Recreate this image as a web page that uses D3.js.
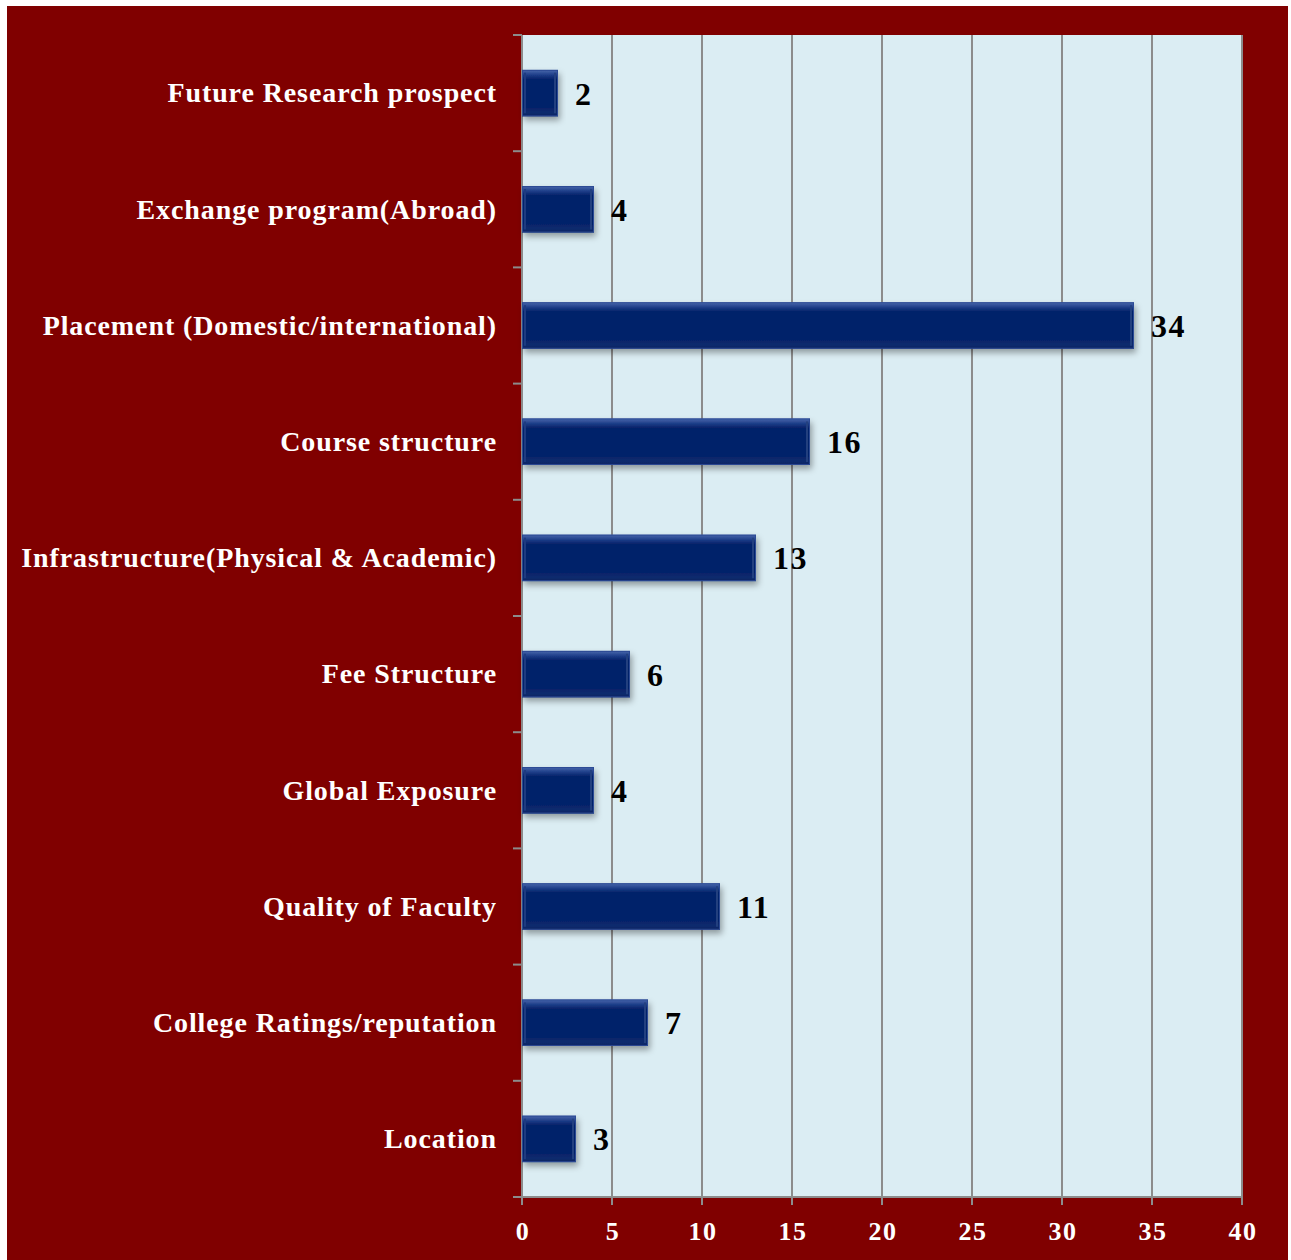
<!DOCTYPE html>
<html>
<head>
<meta charset="utf-8">
<script src="https://cdn.jsdelivr.net/npm/d3@7"></script>
<style>
  html, body { margin: 0; padding: 0; background: #ffffff; }
  svg { display: block; }
</style>
</head>
<body>
<svg id="chart" width="1291" height="1260"></svg>
<script>
// Factors considered when choosing a college (number of responses)
const categories = [
  "Future Research prospect",
  "Exchange program(Abroad)",
  "Placement (Domestic/international)",
  "Course structure",
  "Infrastructure(Physical & Academic)",
  "Fee Structure",
  "Global Exposure",
  "Quality of Faculty",
  "College Ratings/reputation",
  "Location"
];
const values = [2, 4, 34, 16, 13, 6, 4, 11, 7, 3];
const xTicks = [0, 5, 10, 15, 20, 25, 30, 35, 40];

const svg = d3.select("#chart");
const W = 1291, H = 1260;
const plot = { left: 522, right: 1242, top: 35, bottom: 1197 };
const fontFamily = "'Liberation Serif', 'DejaVu Serif', serif";

// Outer dark-red panel
svg.append("rect").attr("x", 7).attr("y", 6).attr("width", W - 10).attr("height", H - 6)
  .attr("fill", "#800000");

const x = d3.scaleLinear().domain([0, 40]).range([plot.left, plot.right]);
const y = d3.scaleBand().domain(categories).range([plot.top, plot.bottom]).paddingInner(0.6).paddingOuter(0.3);
const yBand = d3.scaleBand().domain(categories).range([plot.top, plot.bottom]);

// Plot background
svg.append("rect").attr("x", plot.left).attr("y", plot.top)
  .attr("width", plot.right - plot.left).attr("height", plot.bottom - plot.top)
  .attr("fill", "#dbedf3");

const defs = svg.append("defs");
const grad = defs.append("linearGradient").attr("id", "barGrad")
  .attr("x1", 0).attr("y1", 0).attr("x2", 0).attr("y2", 1);
grad.append("stop").attr("offset", "0%").attr("stop-color", "#4a68ad");
grad.append("stop").attr("offset", "12%").attr("stop-color", "#1a3a85");
grad.append("stop").attr("offset", "20%").attr("stop-color", "#06236a");
grad.append("stop").attr("offset", "82%").attr("stop-color", "#06236a");
grad.append("stop").attr("offset", "92%").attr("stop-color", "#0f2c6e");
grad.append("stop").attr("offset", "100%").attr("stop-color", "#0a2260");

const shadow = defs.append("filter").attr("id", "barShadow")
  .attr("x", "-10%").attr("y", "-20%").attr("width", "130%").attr("height", "160%");
shadow.append("feDropShadow").attr("dx", 2).attr("dy", 4).attr("stdDeviation", 3)
  .attr("flood-color", "#000").attr("flood-opacity", 0.35);

// Vertical gridlines
svg.append("g").selectAll("line").data(xTicks).join("line")
  .attr("x1", d => x(d)).attr("x2", d => x(d))
  .attr("y1", plot.top).attr("y2", plot.bottom + 8)
  .attr("stroke", "#8c8c8c").attr("stroke-width", 2);

// Category tick marks on left axis
const yTickPos = categories.map(c => yBand(c)).concat([plot.bottom]);
svg.append("g").selectAll("line").data(yTickPos).join("line")
  .attr("x1", plot.left - 9).attr("x2", plot.left)
  .attr("y1", d => d).attr("y2", d => d)
  .attr("stroke", "#8c8c8c").attr("stroke-width", 2);

// Bottom axis line
svg.append("line").attr("x1", plot.left - 9).attr("x2", plot.right)
  .attr("y1", plot.bottom).attr("y2", plot.bottom)
  .attr("stroke", "#8c8c8c").attr("stroke-width", 2);

// Bars
const bars = svg.append("g");
categories.forEach((c, i) => {
  const x0 = x(0), x1 = x(values[i]);
  const by = y(c), bh = y.bandwidth();
  const g = bars.append("g");
  g.append("rect").attr("x", x0).attr("y", by).attr("width", x1 - x0).attr("height", bh)
    .attr("fill", "url(#barGrad)").attr("filter", "url(#barShadow)");
  // bevel edges
  g.append("rect").attr("x", x0 + 0.5).attr("y", by + 0.5).attr("width", x1 - x0 - 1).attr("height", bh - 1)
    .attr("fill", "none").attr("stroke", "#2c4a94").attr("stroke-width", 1);
  g.append("line").attr("x1", x1 - 3).attr("x2", x1 - 3).attr("y1", by + 3).attr("y2", by + bh - 3)
    .attr("stroke", "#23407f").attr("stroke-width", 2);
  g.append("line").attr("x1", x0 + 3).attr("x2", x0 + 3).attr("y1", by + 3).attr("y2", by + bh - 3)
    .attr("stroke", "#1e3b80").attr("stroke-width", 2);
});

// Value labels
svg.append("g").selectAll("text").data(categories).join("text")
  .attr("x", (c, i) => x(values[i]) + 17)
  .attr("y", c => y(c) + y.bandwidth() / 2)
  .attr("dy", "0.36em")
  .attr("font-family", fontFamily).attr("font-weight", "bold").attr("font-size", 32)
  .attr("letter-spacing", 1.5)
  .attr("fill", "#000")
  .text((c, i) => values[i]);

// Category labels
svg.append("g").selectAll("text").data(categories).join("text")
  .attr("x", 497)
  .attr("y", c => yBand(c) + yBand.bandwidth() / 2)
  .attr("dy", "0.33em")
  .attr("text-anchor", "end")
  .attr("font-family", fontFamily).attr("font-weight", "bold").attr("font-size", 28)
  .attr("letter-spacing", 0.9)
  .attr("fill", "#ffffff")
  .text(c => c);

// X tick labels
svg.append("g").selectAll("text").data(xTicks).join("text")
  .attr("x", d => x(d) + 1)
  .attr("y", 1231)
  .attr("dy", "0.35em")
  .attr("text-anchor", "middle")
  .attr("font-family", fontFamily).attr("font-weight", "bold").attr("font-size", 26)
  .attr("letter-spacing", 1.5)
  .attr("fill", "#ffffff")
  .text(d => d);
</script>
</body>
</html>
